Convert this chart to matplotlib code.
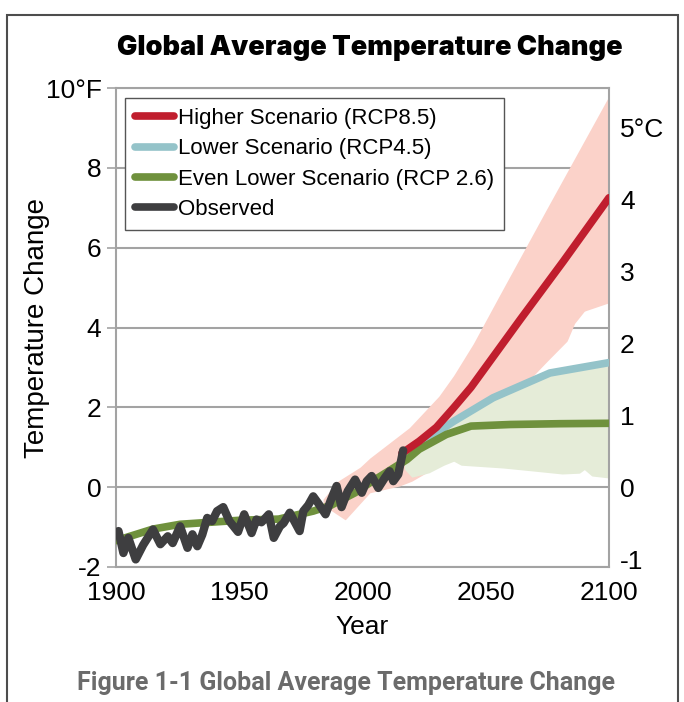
import matplotlib
matplotlib.use("Agg")
import matplotlib.pyplot as plt
from matplotlib.patches import Rectangle
import numpy as np

plt.rcParams['font.family'] = ['Liberation Sans', 'DejaVu Sans']

# observed (deg F anomaly)
obs_years = [1901, 1903, 1905, 1908, 1911, 1915, 1918, 1921, 1923, 1926, 1929, 1931,
             1933, 1935, 1937, 1939, 1941, 1943.5, 1946, 1949.5, 1952, 1955, 1957, 1959,
             1962, 1964, 1966.5, 1968, 1970.5, 1974.5, 1976, 1978, 1980, 1982, 1985, 1987,
             1989.5, 1991.5, 1994, 1997, 1999.7, 2001.7, 2003.7, 2006.4, 2009, 2011, 2012.5,
             2014.5, 2016.5]
obs_vals = [-1.10, -1.65, -1.27, -1.81, -1.45, -1.06, -1.43, -1.23, -1.40, -0.98, -1.52, -1.18,
            -1.48, -1.19, -0.77, -0.85, -0.60, -0.50, -0.85, -1.12, -0.68, -1.15, -0.81, -0.88,
            -0.68, -1.27, -0.98, -0.90, -0.64, -1.10, -0.60, -0.45, -0.23, -0.40, -0.68, -0.35,
            0.03, -0.50, -0.10, 0.19, -0.14, 0.15, 0.28, -0.02, 0.23, 0.40, 0.15,
            0.32, 0.92]

# scenario central estimates
rcp26_years = [1900, 1915, 1926, 1950, 1966, 1980, 1987, 1997, 2003, 2010, 2018, 2023, 2034, 2044, 2060, 2080, 2100]
rcp26_vals = [-1.34, -1.05, -0.93, -0.83, -0.80, -0.60, -0.46, -0.14, 0.11, 0.38, 0.69, 0.95, 1.32, 1.53, 1.57, 1.59, 1.60]
rcp45_years = [2016, 2025, 2037, 2053, 2076, 2100]
rcp45_vals = [0.85, 1.15, 1.65, 2.24, 2.86, 3.12]
rcp85_years = [2016, 2023, 2030, 2037, 2044, 2064, 2081.5, 2100]
rcp85_vals = [0.85, 1.15, 1.50, 1.99, 2.50, 4.20, 5.66, 7.25]

# ranges
hi_band_years = [1984, 1990, 1999, 2003, 2019, 2031, 2037, 2045, 2055, 2075, 2100]
hi_band_top = [-0.30, 0.15, 0.50, 0.73, 1.49, 2.28, 2.80, 3.60, 4.74, 7.00, 9.80]
hi_low_years = [1984, 1993, 2003, 2015, 2020, 2034, 2048, 2064, 2075, 2083, 2086, 2090, 2100]
hi_band_low = [-0.45, -0.82, -0.14, 0.03, 0.15, 0.65, 1.65, 2.45, 3.16, 3.66, 4.10, 4.41, 4.62]

lo_band_years = [2017, 2020, 2027, 2033, 2037, 2040, 2057, 2070, 2081, 2088, 2090, 2093, 2100]
lo_band_low = [0.45, 0.25, 0.36, 0.55, 0.65, 0.55, 0.48, 0.40, 0.33, 0.35, 0.44, 0.28, 0.23]
lo_top_years = [2017, 2025, 2037, 2053, 2076, 2100]
lo_band_top = [0.80, 1.12, 1.60, 2.18, 2.80, 3.05]

fig = plt.figure(figsize=(6.84, 7.02), dpi=100)
ax = fig.add_axes([116/684, 1 - 567/702, 493/684, 479/702])

grid_c = '#a3a3a3'

# bands
yy = np.linspace(1984, 2100, 300)
ax.fill_between(yy, np.interp(yy, hi_low_years, hi_band_low), np.interp(yy, hi_band_years, hi_band_top),
                color='#fbd2c9', lw=0, zorder=1)
yy2 = np.linspace(2017, 2100, 300)
ax.fill_between(yy2, np.interp(yy2, lo_band_years, lo_band_low), np.interp(yy2, lo_top_years, lo_band_top),
                color='#e5ecd8', lw=0, zorder=1.5)

kw = dict(solid_capstyle='round', solid_joinstyle='round')
ax.plot(rcp85_years, rcp85_vals, color='#c01e2e', lw=5.5, zorder=4, label='Higher Scenario (RCP8.5)', **kw)
ax.plot(rcp45_years, rcp45_vals, color='#94c3c9', lw=5.5, zorder=3.5, label='Lower Scenario (RCP4.5)', **kw)
ax.plot(rcp26_years, rcp26_vals, color='#6f913d', lw=5.5, zorder=3.8, label='Even Lower Scenario (RCP 2.6)', **kw)
ax.plot(obs_years, obs_vals, color='#3e3e40', lw=6, zorder=5, label='Observed', **kw)

ax.set_xlim(1900, 2100)
ax.set_ylim(-2, 10)
ax.set_yticks([-2, 0, 2, 4, 6, 8, 10])
ax.set_yticklabels(['-2', '0', '2', '4', '6', '8', '10°F'])
ax.set_xticks([1900, 1950, 2000, 2050, 2100])
ax.yaxis.grid(True, color=grid_c, lw=1.5, zorder=0)
ax.set_axisbelow(True)
for s in ax.spines.values():
    s.set_color(grid_c)
    s.set_linewidth(1.5)
ax.tick_params(axis='y', length=6.5, width=1.2, color=grid_c, pad=4, labelsize=19)
ax.tick_params(axis='x', length=0, pad=10, labelsize=19)
ax.set_xlabel('Year', fontsize=19, labelpad=7)
ax.set_ylabel('Temperature Change', fontsize=20, labelpad=-3)

sec = ax.secondary_yaxis('right', functions=(lambda f: f / 1.8, lambda c: c * 1.8))
sec.set_yticks([-1, 0, 1, 2, 3, 4, 5])
sec.set_yticklabels(['-1', '0', '1', '2', '3', '4', '5°C'])
sec.tick_params(length=0, pad=8, labelsize=19)
sec.spines['right'].set_visible(False)

leg = ax.legend(loc='upper left', bbox_to_anchor=(9/493, 1 - 10/479), borderaxespad=0,
                fontsize=16, handlelength=1.75, handletextpad=0.2, labelspacing=0.42,
                borderpad=0.45, fancybox=False, framealpha=1, edgecolor='#555555')
leg.get_frame().set_linewidth(1.0)
for h in leg.get_lines():
    h.set_linewidth(5.5)

fig.text(0.54, 1 - 48/702, 'Global Average Temperature Change', ha='center', va='center',
         fontsize=19.5, fontweight='black', family=['Inter', 'DejaVu Sans'])
fig.text(346/684, 1 - 683/702, 'Figure 1-1 Global Average Temperature Change', ha='center', va='center',
         fontsize=18, fontweight='bold', color='#6b6b6b', family=['Roboto', 'DejaVu Sans'])

fig.patches.append(Rectangle((7/684, -0.1), 671/684, 1.1 - 15/702, transform=fig.transFigure,
                             fill=False, edgecolor='#4d4d4d', lw=1.5))

plt.savefig('out.png', dpi=100)
